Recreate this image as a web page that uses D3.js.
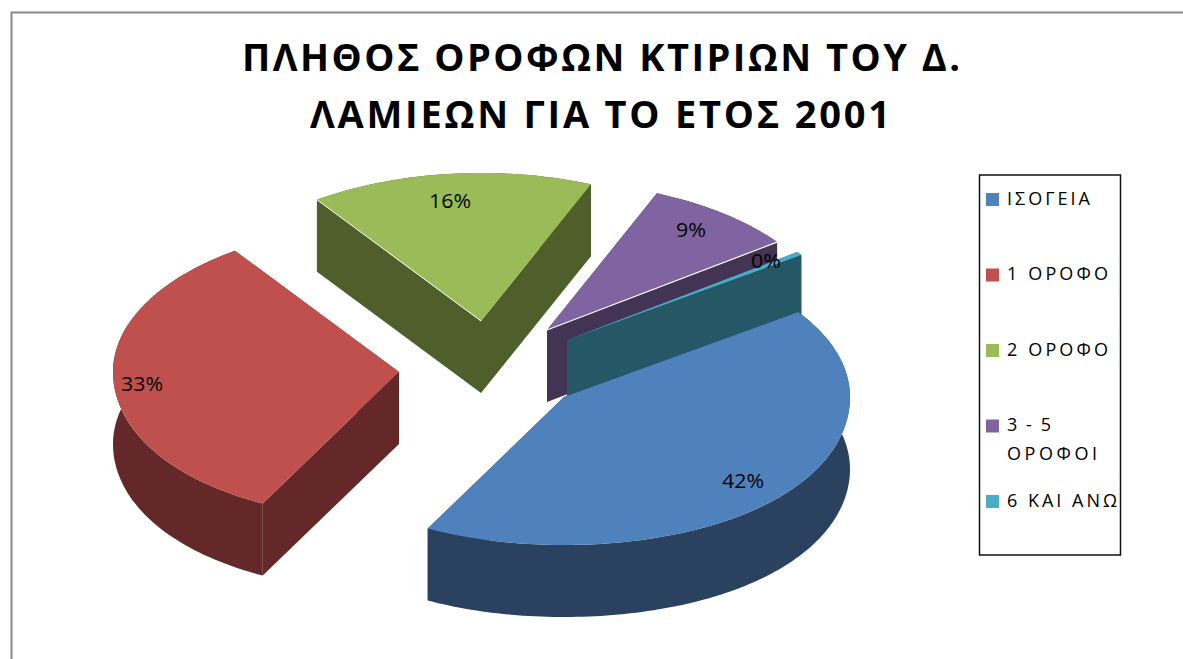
<!DOCTYPE html>
<html>
<head>
<meta charset="utf-8">
<script src="https://cdn.jsdelivr.net/npm/d3@7"></script>
<style>
html,body{margin:0;padding:0;background:#fff;overflow:hidden}
svg{display:block}
text{font-family:"Open Sans",sans-serif;fill:#000}
</style>
</head>
<body>
<svg id="c" width="1183" height="659"></svg>
<script>
// ---- data ----
const categories = ["ΙΣΟΓΕΙΑ", "1 ΟΡΟΦΟ", "2 ΟΡΟΦΟ", "3 - 5 ΟΡΟΦΟΙ", "6 ΚΑΙ ΑΝΩ"];
const values = [42.3, 32.7, 16, 8.6, 0.4];
const titleLines = ["ΠΛΗΘΟΣ ΟΡΟΦΩΝ ΚΤΙΡΙΩΝ ΤΟΥ Δ.", "ΛΑΜΙΕΩΝ ΓΙΑ ΤΟ ΕΤΟΣ 2001"];

// ---- styles ----
const topColors = ["#4f81bd", "#c0504d", "#9bbb59", "#8064a2", "#4bacc6"];
const sideColors = ["#2a4260", "#632827", "#4f5f2b", "#433355", "#255766"];

// ---- layout ----
const rx = 286, ry = 148, depth = 72, perspective = 0.05;
const apex = [[564, 397], [399, 372], [481, 321], [547, 330], [567, 340]];
const labelPos = [[743, 488], [142, 391], [450, 208], [691, 237], [766, 268]];
const drawOrder = [2, 1, 3, 4, 0];

const svg = d3.select("#c");

// frame
svg.append("path").attr("d", "M11.5,659V12.5H1183")
  .attr("fill", "none").attr("stroke", "#8a8a8a").attr("stroke-width", 2);

// title
const titleSpec = [{x: 242, w: 718, y: 71}, {x: 310, w: 580, y: 128}];
svg.selectAll("text.title").data(titleLines).join("text")
  .attr("class", "title")
  .attr("x", (d, i) => titleSpec[i].x)
  .attr("y", (d, i) => titleSpec[i].y)
  .attr("textLength", (d, i) => titleSpec[i].w)
  .attr("lengthAdjust", "spacing")
  .attr("font-size", 38).attr("font-weight", 700)
  .text(d => d);

// pie
const pie = d3.pie().sort(null).value(d => d)
  .startAngle(55 * Math.PI / 180).endAngle((55 + 360) * Math.PI / 180);
const arcs = pie(values);
const total = d3.sum(values);
const pct = d3.format(".0%");
const line = d3.line();

function pt(i, a, dz) {
  const c = Math.min(0, Math.cos(a));
  const widen = 1 + perspective * c * c;
  return [apex[i][0] + rx * widen * Math.sin(a), apex[i][1] - ry * Math.cos(a) + (dz || 0)];
}
function arcPts(i, a0, a1, dz) {
  const n = Math.max(2, Math.ceil(Math.abs(a1 - a0) / 0.02));
  return d3.range(n + 1).map(k => pt(i, a0 + (a1 - a0) * k / n, dz));
}

const g = svg.append("g");
drawOrder.forEach(i => {
  const a = arcs[i], gs = g.append("g");
  const side = sideColors[i];
  // outer wall
  const wall = arcPts(i, a.startAngle, a.endAngle, 0)
    .concat(arcPts(i, a.endAngle, a.startAngle, depth));
  gs.append("path").attr("d", line(wall) + "Z").attr("fill", side);
  // cut faces
  [a.startAngle, a.endAngle].forEach(t => {
    const p = pt(i, t, 0), q = apex[i];
    gs.append("path").attr("d", line([q, p, [p[0], p[1] + depth], [q[0], q[1] + depth]]) + "Z")
      .attr("fill", side);
  });
  // top
  const top = [apex[i]].concat(arcPts(i, a.startAngle, a.endAngle, 0));
  gs.append("path").attr("d", line(top) + "Z").attr("fill", topColors[i]);
  // thin white highlight along the front cut edge
  if (i === 2) gs.append("path").attr("d", line([apex[i], pt(i, a.startAngle)]))
    .attr("stroke", "#fff").attr("stroke-width", 1).attr("fill", "none");
  if (i === 3) gs.append("path").attr("d", line([apex[i], pt(i, a.endAngle)]))
    .attr("stroke", "#fff").attr("stroke-width", 1.2).attr("fill", "none");
});

// data labels
svg.selectAll("text.lab").data(arcs).join("text")
  .attr("class", "lab")
  .attr("x", (d, i) => labelPos[i][0])
  .attr("y", (d, i) => labelPos[i][1])
  .attr("text-anchor", "middle")
  .attr("font-size", 20)
  .attr("textLength", (d, i) => i > 2 ? 30 : 42)
  .attr("lengthAdjust", "spacingAndGlyphs")
  .text(d => pct(d.value / total));

// legend
svg.append("rect").attr("x", 979.5).attr("y", 175).attr("width", 141).attr("height", 380)
  .attr("fill", "#fff").attr("stroke", "#111").attr("stroke-width", 1.5);
const swatchY = d3.scalePoint().domain(d3.range(categories.length)).range([193, 495]);
svg.selectAll("rect.sw").data(categories).join("rect")
  .attr("class", "sw")
  .attr("x", 986).attr("y", (d, i) => swatchY(i))
  .attr("width", 13).attr("height", 13)
  .attr("fill", (d, i) => topColors[i]);
const legendLines = [
  {t: "ΙΣΟΓΕΙΑ", y: 205, w: 83},
  {t: "1 ΟΡΟΦΟ", y: 280, w: 101},
  {t: "2 ΟΡΟΦΟ", y: 356, w: 101},
  {t: "3 - 5", y: 431, w: 44},
  {t: "ΟΡΟΦΟΙ", y: 460, w: 90},
  {t: "6 ΚΑΙ ΑΝΩ", y: 507, w: 110}
];
svg.selectAll("text.leg").data(legendLines).join("text")
  .attr("class", "leg")
  .attr("x", 1007).attr("y", d => d.y)
  .attr("textLength", d => d.w).attr("lengthAdjust", "spacing")
  .attr("font-size", 18)
  .text(d => d.t);
</script>
</body>
</html>
